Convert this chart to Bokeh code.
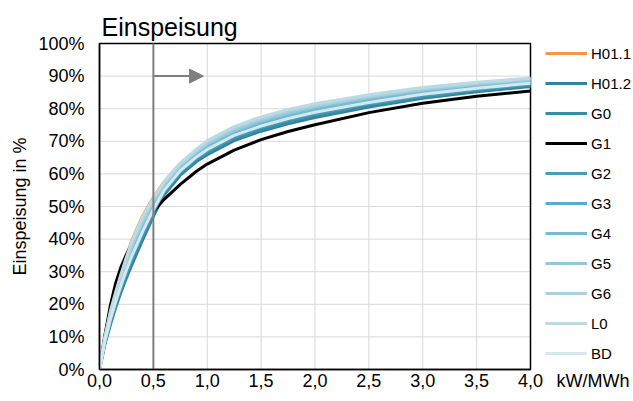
from bokeh.plotting import figure
from bokeh.models import (Range1d, FixedTicker, Legend, LegendItem, Label, Arrow,
                          NormalHead, LinearAxis)
from bokeh.embed import file_html
from bokeh.resources import INLINE

# ---------------- data ----------------
x_vals = [0, 0.05, 0.1, 0.15, 0.2, 0.25, 0.3, 0.4, 0.5, 0.6, 0.75, 0.9, 1.0,
          1.25, 1.5, 1.75, 2.0, 2.5, 3.0, 3.5, 4.0]

series_names = ["H01.1", "H01.2", "G0", "G1", "G2", "G3", "G4", "G5", "G6", "L0", "BD"]

h011 = [0, 10.2, 18.0, 24.0, 29.5, 34.8, 39.6, 47.1, 52.8, 57.6, 63.2, 67.3, 69.9,
        74.2, 77.2, 79.5, 81.2, 84.0, 86.2, 87.9, 89.1]
h012 = [0, 7.7, 13.6, 19.0, 23.8, 28.1, 32.1, 39.7, 47.0, 53.5, 59.6, 63.8, 65.9,
        70.2, 73.1, 75.4, 77.3, 80.5, 83.2, 85.2, 86.8]
g0 = [0, 8.0, 14.1, 19.6, 24.5, 28.9, 33.0, 40.6, 47.7, 54.0, 60.1, 64.3, 66.4,
      70.7, 73.6, 75.9, 77.8, 81.0, 83.6, 85.6, 87.1]
g1 = [0, 10.5, 19.5, 26.5, 31.5, 35.3, 38.5, 44.0, 48.5, 52.2, 56.8, 60.8, 63.0,
      67.3, 70.5, 73.0, 75.1, 78.8, 81.7, 83.8, 85.4]
g2 = [0, 8.3, 14.7, 20.2, 25.2, 29.7, 33.9, 41.5, 48.4, 54.5, 60.6, 64.8, 67.0,
      71.3, 74.2, 76.5, 78.4, 81.5, 84.0, 85.9, 87.5]
g3 = [0, 8.9, 15.7, 21.4, 26.6, 31.3, 35.7, 43.3, 49.8, 55.6, 61.5, 65.7, 68.1,
      72.4, 75.3, 77.6, 79.4, 82.4, 84.9, 86.7, 88.1]
g4 = [0, 9.1, 16.2, 22.0, 27.2, 32.1, 36.6, 44.1, 50.5, 56.0, 62.0, 66.2, 68.6,
      72.9, 75.8, 78.1, 79.9, 82.9, 85.3, 87.0, 88.4]
g5 = [0, 9.4, 16.8, 22.6, 27.9, 32.9, 37.5, 45.0, 51.2, 56.6, 62.5, 66.7, 69.1,
      73.4, 76.4, 78.7, 80.5, 83.4, 85.7, 87.4, 88.8]
g6 = [0, 9.7, 17.3, 23.2, 28.6, 33.7, 38.4, 46.0, 51.9, 57.1, 62.9, 67.1, 69.7,
      74.0, 77.0, 79.3, 81.0, 83.8, 86.1, 87.8, 89.1]
l0 = [0, 10.0, 17.8, 23.8, 29.3, 34.5, 39.3, 46.8, 52.6, 57.6, 63.4, 67.6, 70.2,
      74.5, 77.5, 79.8, 81.5, 84.3, 86.5, 88.1, 89.4]
bd = [0, 8.6, 15.2, 20.8, 25.8, 30.5, 34.8, 42.3, 49.1, 55.0, 61.0, 65.2, 67.5,
      71.8, 74.7, 77.0, 78.9, 81.9, 84.4, 86.3, 87.8]

series_values = [h011, h012, g0, g1, g2, g3, g4, g5, g6, l0, bd]
series_colors = ["#F79646", "#31849B", "#378DA6", "#000000", "#4A9DB7", "#56AFC9",
                 "#75BCD0", "#93C8D8", "#A9D2DF", "#BCDAE4", "#D5E8EF"]

x_ticks = [0, 0.5, 1, 1.5, 2, 2.5, 3, 3.5, 4]
x_tick_labels = ["0,0", "0,5", "1,0", "1,5", "2,0", "2,5", "3,0", "3,5", "4,0"]
y_ticks = [0, 10, 20, 30, 40, 50, 60, 70, 80, 90, 100]
y_tick_labels = ["0%", "10%", "20%", "30%", "40%", "50%", "60%", "70%", "80%", "90%", "100%"]

x_min, x_max = 0, 4
y_min, y_max = 0, 100

marker_x = 0.5
arrow_end_x = 0.965
arrow_y = 90

title_text = "Einspeisung"
y_axis_title = "Einspeisung in %"
x_unit_text = "kW/MWh"

# ---------------- layout (pixels) ----------------
W, H = 633, 401
FRAME_L, FRAME_R, FRAME_T, FRAME_B = 99, 530, 43, 369
FONT = "Liberation Sans"

px_x = (FRAME_R - FRAME_L) / (x_max - x_min)
px_y = (FRAME_B - FRAME_T) / (y_max - y_min)
xr = Range1d(x_min - FRAME_L / px_x, x_max + (W - FRAME_R) / px_x)
yr = Range1d(y_min - (H - FRAME_B) / px_y, y_max + FRAME_T / px_y)

p = figure(width=W, height=H, output_backend="svg", toolbar_location=None,
           x_range=xr, y_range=yr, x_axis_location=None, y_axis_location=None,
           min_border=0)
p.title.visible = False
p.outline_line_color = None
p.background_fill_color = "white"
p.border_fill_color = "white"
for g in p.grid:
    g.visible = False

# grid lines at the tick positions
p.segment(x0=x_ticks, y0=[y_min] * len(x_ticks), x1=x_ticks, y1=[y_max] * len(x_ticks),
          line_color="#D9D9D9", line_width=1)
p.segment(x0=[x_min] * len(y_ticks), y0=y_ticks, x1=[x_max] * len(y_ticks), y1=y_ticks,
          line_color="#D9D9D9", line_width=1)
# plot-area border
p.quad(left=[x_min], right=[x_max], bottom=[y_min], top=[y_max],
       fill_color=None, line_color="black", line_width=1.5)

# axes
xaxis = LinearAxis(fixed_location=y_min, bounds=(x_min, x_max),
                   ticker=FixedTicker(ticks=x_ticks),
                   major_label_overrides=dict(zip(x_ticks, x_tick_labels)))
yaxis = LinearAxis(fixed_location=x_min, bounds=(y_min, y_max),
                   ticker=FixedTicker(ticks=y_ticks),
                   major_label_overrides=dict(zip(y_ticks, y_tick_labels)),
                   axis_label=y_axis_title)
for ax in (xaxis, yaxis):
    ax.axis_line_color = "black"
    ax.axis_line_width = 1.5
    ax.major_tick_in = 0
    ax.major_tick_out = 0
    ax.minor_tick_in = 0
    ax.minor_tick_out = 0
    ax.major_label_text_font = FONT
    ax.major_label_text_font_size = "18px"
    ax.major_label_text_color = "black"
xaxis.major_label_standoff = 4
yaxis.major_label_standoff = 15
yaxis.axis_label_text_font = FONT
yaxis.axis_label_text_font_size = "18px"
yaxis.axis_label_text_font_style = "normal"
yaxis.axis_label_text_color = "black"
yaxis.axis_label_standoff = 5
p.add_layout(xaxis, "below")
p.add_layout(yaxis, "left")

# series
renderers = []
for name, vals, col in zip(series_names, series_values, series_colors):
    r = p.line(x_vals, vals, line_color=col, line_width=3, line_join="round")
    renderers.append(r)

# vertical marker line and arrow
p.line([marker_x, marker_x], [y_min, y_max], line_color="#7F7F7F", line_width=2)
p.add_layout(Arrow(end=NormalHead(size=14, fill_color="#7F7F7F", line_color="#7F7F7F"),
                   x_start=marker_x, y_start=arrow_y, x_end=arrow_end_x, y_end=arrow_y,
                   line_color="#7F7F7F", line_width=2))

# legend at the right
items = [LegendItem(label=n, renderers=[r]) for n, r in zip(series_names, renderers)]
legend = Legend(items=items, location=(545, H - FRAME_T - 320), orientation="vertical",
                glyph_width=42, glyph_height=20, label_height=20, spacing=10,
                label_standoff=4, padding=0, margin=0,
                label_text_font=FONT, label_text_font_size="15px", label_text_color="black",
                border_line_color=None, background_fill_alpha=0)
p.add_layout(legend, "center")

# title and unit label
p.add_layout(Label(x=101, y=H - 26, x_units="screen", y_units="screen", text=title_text,
                   text_font=FONT, text_font_size="25px", text_color="black",
                   text_baseline="alphabetic", text_align="left"))
p.add_layout(Label(x=556, y=H - 380, x_units="screen", y_units="screen", text=x_unit_text,
                   text_font=FONT, text_font_size="18px", text_color="black",
                   text_baseline="alphabetic", text_align="left"))

open("out.html", "w").write(file_html(p, INLINE))
